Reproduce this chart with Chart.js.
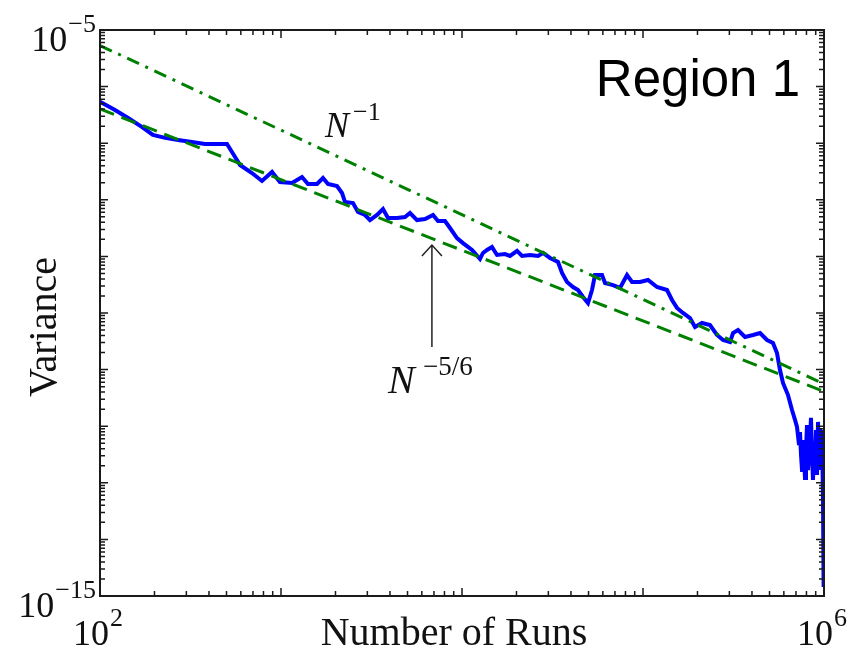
<!DOCTYPE html>
<html>
<head>
<meta charset="utf-8">
<script src="https://cdn.jsdelivr.net/npm/chart.js@4"></script>
<style>
  html, body { margin: 0; background: #fff; }
</style>
</head>
<body>
<canvas id="chart" width="854" height="652"></canvas>
<script>
// === Data ===
// number of runs N (x) and measured variance (y) for the blue trace
const runs = [
  100, 121, 143, 171, 196, 229, 270, 322, 380, 503,
  536, 594, 691, 785, 892, 987, 1150, 1306, 1410, 1581,
  1706, 1818, 2039, 2173, 2257, 2499, 2663, 2912, 3102, 3392,
  3660, 3901, 4374, 4843, 5160, 5642, 6247, 6917, 7368, 8055,
  8585, 9385, 10128, 11358, 12571, 13062, 13746, 14643, 15613, 17285,
  18418, 20136, 21461, 23751, 26303, 28025, 30644, 33922, 35690, 38034,
  41053, 43746, 46616, 49672, 52267, 54304, 59371, 61680, 68287, 74645,
  81592, 86945, 96252, 106560, 119480, 135700, 144640, 154140, 166340, 181880,
  193800, 211840, 234560, 256410, 276690, 302530, 314230, 334950, 366190, 405340,
  443160, 484450, 522660, 549990, 571400, 593640, 632600, 665680, 691580, 709400,
  727700, 737000, 746400, 755900, 765500, 785300, 795300, 805500, 815700, 836800,
  847500, 858400, 869400, 880500, 891900, 903300, 914900, 926600, 938500, 950400,
  962600, 974900, 987400, 995000
];
const variance = [
  5.41e-7, 3.86e-7, 2.79e-7, 1.93e-7, 1.40e-7, 1.24e-7, 1.14e-7, 1.05e-7, 9.68e-8, 9.68e-8,
  6.99e-8, 4.12e-8, 2.97e-8, 2.15e-8, 3.10e-8, 2.06e-8, 1.98e-8, 2.53e-8, 1.90e-8, 1.90e-8,
  2.43e-8, 1.90e-8, 1.75e-8, 1.32e-8, 9.14e-9, 8.78e-9, 6.09e-9, 5.39e-9, 4.39e-9, 5.39e-9,
  6.88e-9, 4.77e-9, 4.77e-9, 4.97e-9, 5.85e-9, 4.39e-9, 4.58e-9, 5.39e-9, 4.22e-9, 4.22e-9,
  3.18e-9, 2.11e-9, 1.72e-9, 1.30e-9, 9.00e-10, 1.15e-9, 1.30e-9, 1.47e-9, 1.06e-9, 1.10e-9,
  1.02e-9, 1.25e-9, 1.02e-9, 1.06e-9, 1.02e-9, 1.15e-9, 9.37e-10, 7.96e-10, 5.09e-10, 3.53e-10,
  2.88e-10, 2.55e-10, 1.92e-10, 1.50e-10, 2.55e-10, 4.69e-10, 4.69e-10, 3.39e-10, 3.12e-10, 2.77e-10,
  4.69e-10, 3.53e-10, 3.53e-10, 3.83e-10, 2.88e-10, 2.55e-10, 1.70e-10, 1.23e-10, 1.00e-10, 8.16e-11,
  5.66e-11, 6.66e-11, 6.14e-11, 4.09e-11, 3.33e-11, 3.07e-11, 4.43e-11, 5.01e-11, 3.77e-11, 4.09e-11,
  4.43e-11, 3.33e-11, 2.95e-11, 1.96e-11, 9.84e-12, 5.80e-12, 3.55e-12, 1.93e-12, 1.29e-12, 9.68e-13,
  4.66e-13, 7.91e-13, 3.10e-13, 1.68e-13, 5.70e-13, 1.22e-13, 3.80e-13, 1.05e-12, 1.68e-13, 5.70e-13,
  1.40e-12, 3.10e-13, 1.12e-13, 4.66e-13, 2.06e-13, 8.57e-13, 1.37e-13, 1.19e-12, 2.53e-13, 9.29e-13,
  1.68e-13, 8.57e-13, 4.97e-14, 1.44e-15
];

// reference slope lines, drawn between the two ends of the x range
const guideRuns = [1e2, 1e6];
const guideInverse = [5.32e-6, 5.57e-12];       // labelled N^-1
const guideFiveSixths = [4.02e-7, 4.10e-12];    // labelled N^-5/6

// axis range and the only labelled ticks
const xRange = [1e2, 1e6];
const yRange = [1e-15, 1e-5];
const xTickValues = [1e2, 1e6];
const xTickExps = ["2", "6"];
const yTickValues = [1e-5, 1e-15];
const yTickExps = ["\u22125", "\u221215"];

const toPoints = (xs, ys) => xs.map((x, i) => ({ x, y: ys[i] }));

const SERIF = "'Liberation Serif', 'Times New Roman', serif";

// === Frame, inward ticks, labels and notes ===
const framePlugin = {
  id: "frame",
  afterDraw(chart) {
    const ctx = chart.ctx;
    const a = chart.chartArea;
    const xs = chart.scales.x;
    const ys = chart.scales.y;
    ctx.save();

    // box
    ctx.strokeStyle = "#1a1a1a";
    ctx.lineWidth = 2;
    ctx.strokeRect(a.left, a.top, a.right - a.left, a.bottom - a.top);

    // log ticks on all four sides, pointing in
    ctx.lineWidth = 1.5;
    const logTicks = (scale, horizontal) => {
      const lo = Math.round(Math.log10(scale.min));
      const hi = Math.round(Math.log10(scale.max));
      for (let e = lo; e <= hi; e++) {
        for (let m = 1; m <= 9; m++) {
          if (e === hi && m > 1) break;
          const p = scale.getPixelForValue(m * Math.pow(10, e));
          const len = m === 1 ? 8 : 5;
          ctx.beginPath();
          if (horizontal) {
            ctx.moveTo(p, a.bottom); ctx.lineTo(p, a.bottom - len);
            ctx.moveTo(p, a.top); ctx.lineTo(p, a.top + len);
          } else {
            ctx.moveTo(a.left, p); ctx.lineTo(a.left + len, p);
            ctx.moveTo(a.right, p); ctx.lineTo(a.right - len, p);
          }
          ctx.stroke();
        }
      }
    };
    logTicks(xs, true);
    logTicks(ys, false);

    // tick labels as 10^n
    ctx.fillStyle = "#111";
    ctx.textBaseline = "alphabetic";
    ctx.textAlign = "left";
    const baseFont = "36px " + SERIF;
    const supFont = "26px " + SERIF;
    const powerWidth = (exp) => {
      ctx.font = baseFont;
      const w1 = ctx.measureText("10").width;
      ctx.font = supFont;
      return [w1, ctx.measureText(exp).width];
    };
    const drawPower = (left, baseline, exp) => {
      const [w1] = powerWidth(exp);
      ctx.font = baseFont;
      ctx.fillText("10", left, baseline);
      ctx.font = supFont;
      ctx.fillText(exp, left + w1 + 1, baseline - 19);
    };
    yTickValues.forEach((v, i) => {
      const [w1, w2] = powerWidth(yTickExps[i]);
      drawPower(a.left - 4 - (w1 + w2 + 1), ys.getPixelForValue(v) + 21, yTickExps[i]);
    });
    xTickValues.forEach((v, i) => {
      const [w1, w2] = powerWidth(xTickExps[i]);
      drawPower(xs.getPixelForValue(v) - (w1 + w2 + 1) / 2 - 2, a.bottom + 49, xTickExps[i]);
    });

    // axis titles
    ctx.font = "40px " + SERIF;
    ctx.textAlign = "center";
    ctx.fillText("Number of Runs", (a.left + a.right) / 2 - 8, a.bottom + 49);
    ctx.save();
    ctx.translate(56, (a.top + a.bottom) / 2 + 14);
    ctx.rotate(-Math.PI / 2);
    ctx.fillText("Variance", 0, 0);
    ctx.restore();

    // slope notes
    ctx.textAlign = "left";
    const n1x = xs.getPixelForValue(1750), n1y = ys.getPixelForValue(1.29e-7);
    ctx.font = "italic 36px " + SERIF;
    ctx.fillText("N", n1x, n1y);
    ctx.font = "26px " + SERIF;
    ctx.fillText("\u22121", n1x + 28, n1y - 17);

    const n2x = xs.getPixelForValue(3900), n2y = ys.getPixelForValue(3.86e-12);
    ctx.font = "italic 40px " + SERIF;
    ctx.fillText("N", n2x, n2y);
    ctx.font = "27px " + SERIF;
    ctx.fillText("\u22125/6", n2x + 35, n2y - 18);

    // arrow pointing at the N^-5/6 guide
    const ax = xs.getPixelForValue(6820);
    const tipY = ys.getPixelForValue(1.59e-9);
    const tailY = ys.getPixelForValue(2.51e-11);
    ctx.strokeStyle = "#222";
    ctx.lineWidth = 1.5;
    ctx.beginPath();
    ctx.moveTo(ax, tailY); ctx.lineTo(ax, tipY);
    ctx.moveTo(ax - 10, tipY + 11); ctx.lineTo(ax, tipY); ctx.lineTo(ax + 10, tipY + 11);
    ctx.stroke();

    // region tag
    ctx.fillStyle = "#000";
    ctx.font = "51px 'Liberation Sans', Arial, sans-serif";
    ctx.textAlign = "right";
    ctx.fillText("Region 1", a.right - 24, a.top + 66);

    ctx.restore();
  },
};

// === Chart ===
new Chart(document.getElementById("chart"), {
  type: "line",
  data: {
    datasets: [
      {
        data: toPoints(guideRuns, guideInverse),
        borderColor: "#008000",
        borderWidth: 3,
        borderDash: [13, 7, 3, 7],
        pointRadius: 0,
      },
      {
        data: toPoints(guideRuns, guideFiveSixths),
        borderColor: "#008000",
        borderWidth: 3,
        borderDash: [15, 8],
        pointRadius: 0,
      },
      {
        data: toPoints(runs, variance),
        borderColor: "#0000ff",
        borderWidth: 4,
        pointRadius: 0,
        tension: 0,
      },
    ],
  },
  options: {
    responsive: false,
    animation: false,
    layout: { padding: { left: 100, right: 30, top: 30, bottom: 56 } },
    plugins: { legend: { display: false }, tooltip: { enabled: false } },
    scales: {
      x: { type: "logarithmic", min: xRange[0], max: xRange[1], display: false },
      y: { type: "logarithmic", min: yRange[0], max: yRange[1], display: false },
    },
  },
  plugins: [framePlugin],
});
</script>
</body>
</html>
